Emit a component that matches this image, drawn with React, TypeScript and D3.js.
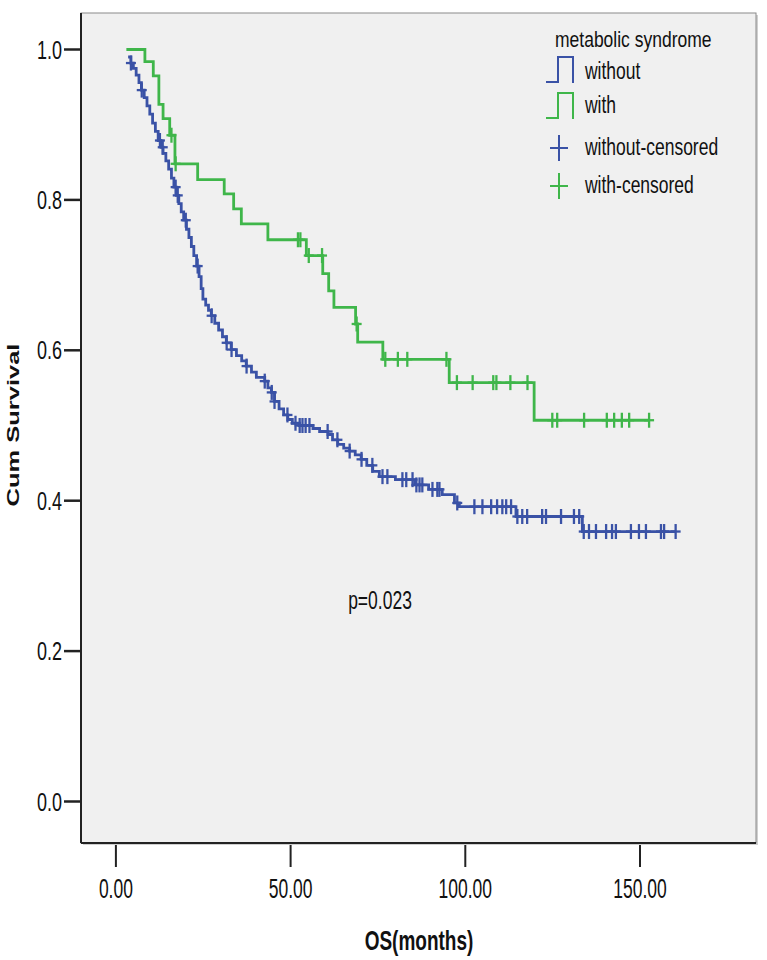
import React from "react";
import * as d3 from "d3";

// ---------- data ----------
const withoutTimes = [3.5, 4.3, 5.0, 5.8, 6.6, 7.3, 8.1, 8.9, 9.7, 10.5, 11.3, 12.1, 12.9, 13.5, 14.3, 15.1, 15.9, 16.6, 17.3, 18.0, 18.7, 19.4, 20.2, 20.9, 21.6, 22.3, 23.1, 23.8, 24.4, 24.9, 25.7, 26.5, 27.3, 28.3, 29.4, 30.5, 31.6, 33.0, 34.5, 36.0, 37.3, 38.8, 40.2, 42.6, 43.5, 44.5, 45.4, 46.7, 48.0, 49.2, 50.5, 52.5, 56.4, 58.3, 60.7, 62.0, 63.5, 65.2, 66.9, 68.5, 70.2, 71.8, 73.5, 75.4, 80.0, 85.5, 89.5, 93.4, 96.9, 98.3, 114.5, 133.5];
const withoutSurv = [0.990, 0.982, 0.975, 0.966, 0.956, 0.946, 0.936, 0.925, 0.914, 0.902, 0.891, 0.879, 0.870, 0.862, 0.852, 0.841, 0.829, 0.817, 0.806, 0.795, 0.784, 0.773, 0.761, 0.750, 0.738, 0.726, 0.712, 0.698, 0.682, 0.668, 0.660, 0.653, 0.646, 0.636, 0.627, 0.618, 0.610, 0.601, 0.593, 0.586, 0.579, 0.571, 0.564, 0.559, 0.550, 0.544, 0.532, 0.522, 0.514, 0.508, 0.503, 0.500, 0.496, 0.492, 0.488, 0.481, 0.475, 0.470, 0.466, 0.461, 0.455, 0.447, 0.439, 0.432, 0.428, 0.421, 0.415, 0.408, 0.397, 0.392, 0.379, 0.359];
const withoutCensored = [4.3, 7.4, 12.6, 13.4, 17.1, 17.7, 20.0, 23.4, 27.4, 31.7, 33.1, 37.4, 42.6, 44.6, 45.4, 49.1, 51.4, 52.6, 53.4, 54.3, 55.4, 60.6, 63.4, 66.9, 70.3, 73.4, 76.3, 77.7, 82.0, 83.1, 84.9, 86.0, 86.9, 87.7, 90.6, 92.0, 92.6, 97.7, 102.6, 104.9, 107.4, 109.1, 110.6, 111.7, 113.1, 114.9, 116.3, 117.7, 122.0, 123.1, 127.4, 131.1, 132.6, 133.9, 135.4, 137.4, 140.3, 142.0, 143.1, 147.4, 149.7, 151.7, 156.0, 156.9, 160.2];

const withTimes = [3.0, 8.3, 10.7, 12.3, 13.5, 15.4, 16.9, 23.4, 31.0, 33.7, 35.9, 43.5, 54.5, 59.2, 60.9, 62.4, 68.6, 69.2, 76.4, 95.4, 119.7];
const withSurv = [1.0, 0.984, 0.965, 0.927, 0.908, 0.886, 0.848, 0.827, 0.808, 0.788, 0.768, 0.747, 0.726, 0.702, 0.679, 0.657, 0.635, 0.611, 0.588, 0.557, 0.507];
const withCensored = [15.9, 17.1, 52.1, 52.8, 55.2, 59.0, 68.9, 77.1, 80.7, 83.4, 94.6, 97.6, 102.1, 108.0, 108.9, 112.9, 117.8, 124.9, 126.3, 134.0, 140.5, 142.6, 144.8, 146.9, 152.6];

const xTicks = [0, 50, 100, 150];
const yTicks = [0, 0.2, 0.4, 0.6, 0.8, 1.0];
const legendTitle = "metabolic syndrome";
const legendLabels = ["without", "with", "without-censored", "with-censored"];
const pText = "p=0.023";

const BLUE = "#3a52a6";
const GREEN = "#3fb64a";

// ---------- layout ----------
const W = 767, H = 960;
const plotL = 81, plotR = 756, plotT = 13, plotB = 843;
const SY = 1.42; // vertical stretch of text in reference

const x = d3.scaleLinear().domain([0, 150]).range([115.9, 640]);
const y = d3.scaleLinear().domain([0, 1]).range([801.5, 49.5]);

function stepPoints(times: number[], surv: number[], censored: number[]) {
  const pts: [number, number][] = times.map((t, i) => [t, surv[i]]);
  const end = Math.max(times[times.length - 1], d3.max(censored) ?? 0);
  pts.push([end, surv[surv.length - 1]]);
  return pts;
}
function survAt(times: number[], surv: number[], t: number) {
  let v = surv[0];
  for (let i = 0; i < times.length; i++) if (times[i] <= t) v = surv[i];
  return v;
}

const line = d3
  .line<[number, number]>()
  .x((d) => x(d[0]))
  .y((d) => y(d[1]))
  .curve(d3.curveStepAfter);

function Plus({ cx, cy, color, h = 15, w = 10, sw = 2.3 }: { cx: number; cy: number; color: string; h?: number; w?: number; sw?: number }) {
  return (
    <g stroke={color} strokeWidth={sw}>
      <line x1={cx} x2={cx} y1={cy - h / 2} y2={cy + h / 2} />
      <line x1={cx - w / 2} x2={cx + w / 2} y1={cy} y2={cy} />
    </g>
  );
}

function T({ x0, y0, children, anchor = "start", size = 17.5, weight = "normal", sy = SY }: any) {
  return (
    <text
      transform={`translate(${x0},${y0}) scale(1,${sy})`}
      textAnchor={anchor}
      fontSize={size}
      fontWeight={weight}
      fontFamily="'Liberation Sans', Arial, sans-serif"
      fill="#111"
    >
      {children}
    </text>
  );
}

export default function App() {
  const withoutPts = stepPoints(withoutTimes, withoutSurv, withoutCensored);
  const withPts = stepPoints(withTimes, withSurv, withCensored);
  return (
    <svg width={W} height={H} style={{ position: "absolute", left: 0, top: 0, background: "#fff" }}>
      {/* plot frame */}
      <rect x={plotL + 2} y={plotT + 2} width={plotR - plotL} height={plotB - plotT} fill="#cfcfcf" />
      <rect x={plotL} y={plotT} width={plotR - plotL} height={plotB - plotT} fill="#f0f0f0" stroke="#8a8a8a" strokeWidth={1} />
      <line x1={plotL} x2={plotL} y1={plotT} y2={plotB} stroke="#222" strokeWidth={2} />
      <line x1={plotL} x2={plotR} y1={plotB} y2={plotB} stroke="#222" strokeWidth={2} />

      {/* y axis */}
      {yTicks.map((v) => (
        <g key={v}>
          <line x1={64} x2={plotL} y1={y(v)} y2={y(v)} stroke="#222" strokeWidth={2.5} />
          <T x0={62} y0={y(v) + 9} anchor="end" size={18}>
            {v.toFixed(1)}
          </T>
        </g>
      ))}
      {/* x axis */}
      {xTicks.map((v) => (
        <g key={v}>
          <line x1={x(v)} x2={x(v)} y1={plotB + 2} y2={867} stroke="#222" strokeWidth={2} />
          <T x0={x(v)} y0={898} anchor="middle" size={17.5} sy={1.55}>
            {v.toFixed(2)}
          </T>
        </g>
      ))}
      <T x0={419} y0={950} anchor="middle" size={19} weight="bold" sy={1.5}>
        OS(months)
      </T>
      <text
        transform={`translate(18.5,425) rotate(-90) scale(${SY + 0.08},1)`}
        textAnchor="middle"
        fontSize={17}
        fontWeight="bold"
        fontFamily="'Liberation Sans', Arial, sans-serif"
        fill="#111"
      >
        Cum Survival
      </text>

      {/* curves */}
      <path d={line(withPts) ?? ""} fill="none" stroke={GREEN} strokeWidth={2.8} />
      {withCensored.map((t, i) => (
        <Plus key={"g" + i} cx={x(t)} cy={y(survAt(withTimes, withSurv, t))} color={GREEN} />
      ))}
      <path d={line(withoutPts) ?? ""} fill="none" stroke={BLUE} strokeWidth={2.8} />
      {withoutCensored.map((t, i) => (
        <Plus key={"b" + i} cx={x(t)} cy={y(survAt(withoutTimes, withoutSurv, t))} color={BLUE} />
      ))}

      {/* p value */}
      <T x0={380} y0={609} anchor="middle" size={17.5}>
        {pText}
      </T>

      {/* legend */}
      <T x0={555} y0={46.5} size={17.5} sy={1.3}>
        {legendTitle}
      </T>
      <path d="M546,82 H558 V57 H573 V83" fill="none" stroke={BLUE} strokeWidth={2} />
      <T x0={585} y0={79} size={17.5} sy={1.35}>
        {legendLabels[0]}
      </T>
      <path d="M546,118 H558 V93 H573 V119" fill="none" stroke={GREEN} strokeWidth={2} />
      <T x0={585} y0={113} size={17.5} sy={1.35}>
        {legendLabels[1]}
      </T>
      <Plus cx={559} cy={148} color={BLUE} h={26} w={18} sw={2} />
      <T x0={585} y0={155} size={17.5} sy={1.35}>
        {legendLabels[2]}
      </T>
      <Plus cx={559} cy={186} color={GREEN} h={26} w={18} sw={2} />
      <T x0={585} y0={193} size={17.5} sy={1.35}>
        {legendLabels[3]}
      </T>
    </svg>
  );
}
